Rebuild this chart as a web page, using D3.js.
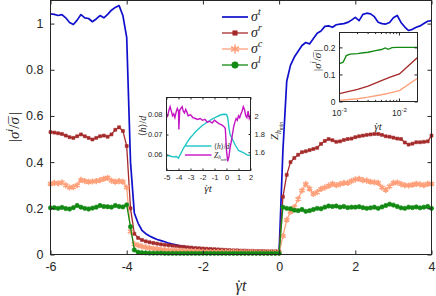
<!DOCTYPE html>
<html>
<head>
<meta charset="utf-8">
<script src="https://cdn.jsdelivr.net/npm/d3@7"></script>
<style>
    body { margin: 0; background: #fff; }
    svg text { fill: #262626; }
</style>
</head>
<body>
<svg id="chart" width="436" height="296"></svg>
<script>
// ─── DONNÉES : FIGURE PRINCIPALE ──────────────────────────────────────────────
const mainTicksX = [-6, -4, -2, 0, 2, 4];
const mainTicksY = [0, 0.2, 0.4, 0.6, 0.8, 1];
const shearTime = d3.range(-60, 41).map(i => i / 10);   // grille en γ̇t, pas de 0.1

const sigmaT = [
    1.042, 1.040, 1.035, 1.039, 1.025, 1.005, 0.996, 1.015, 1.039, 1.025,
    1.022, 1.008, 1.020, 1.035, 1.025, 1.040, 1.058, 1.070, 1.078, 1.035,
    0.940, 0.400, 0.180, 0.135, 0.105, 0.090, 0.080, 0.072, 0.065, 0.060,
    0.055, 0.049, 0.045, 0.042, 0.038, 0.035, 0.032, 0.030, 0.028, 0.026,
    0.024, 0.023, 0.022, 0.021, 0.020, 0.018, 0.017, 0.016, 0.015, 0.015,
    0.014, 0.013, 0.013, 0.012, 0.012, 0.011, 0.011, 0.010, 0.010, 0.010,
    0.010, 0.450, 0.750, 0.820, 0.855, 0.880, 0.905, 0.918, 0.912, 0.935,
    0.958, 0.968, 0.988, 0.990, 0.984, 0.995, 0.998, 1.000, 1.005, 1.015,
    1.027, 1.013, 1.040, 1.045, 1.042, 1.030, 1.006, 1.000, 0.998, 1.005,
    1.025, 1.035, 1.005, 0.985, 0.970, 0.975, 0.984, 0.990, 1.000, 1.010,
    1.013
];
const sigmaR = [
    0.530, 0.528, 0.525, 0.522, 0.515, 0.508, 0.505, 0.512, 0.520, 0.512,
    0.505, 0.498, 0.505, 0.512, 0.515, 0.510, 0.520, 0.540, 0.551, 0.535,
    0.470, 0.200, 0.090, 0.072, 0.063, 0.057, 0.053, 0.050, 0.047, 0.044,
    0.042, 0.040, 0.038, 0.036, 0.034, 0.033, 0.031, 0.030, 0.028, 0.027,
    0.026, 0.025, 0.024, 0.023, 0.022, 0.021, 0.020, 0.019, 0.018, 0.018,
    0.017, 0.017, 0.016, 0.016, 0.015, 0.015, 0.015, 0.014, 0.014, 0.014,
    0.014, 0.250, 0.345, 0.400, 0.418, 0.432, 0.443, 0.447, 0.452, 0.457,
    0.462, 0.479, 0.492, 0.500, 0.495, 0.488, 0.490, 0.496, 0.500, 0.502,
    0.508, 0.512, 0.515, 0.518, 0.520, 0.522, 0.522, 0.518, 0.512, 0.510,
    0.506, 0.502, 0.500, 0.485, 0.476, 0.480, 0.486, 0.486, 0.488, 0.490,
    0.515
];
const sigmaC = [
    0.306, 0.310, 0.308, 0.312, 0.300, 0.290, 0.292, 0.300, 0.323, 0.318,
    0.315, 0.316, 0.318, 0.322, 0.328, 0.332, 0.320, 0.315, 0.318, 0.315,
    0.290, 0.100, 0.045, 0.040, 0.035, 0.031, 0.028, 0.026, 0.024, 0.022,
    0.020, 0.019, 0.018, 0.017, 0.016, 0.015, 0.015, 0.014, 0.014, 0.013,
    0.012, 0.012, 0.011, 0.011, 0.011, 0.010, 0.010, 0.010, 0.010, 0.009,
    0.009, 0.009, 0.009, 0.009, 0.008, 0.008, 0.008, 0.008, 0.008, 0.008,
    0.008, 0.080, 0.150, 0.185, 0.205, 0.240, 0.277, 0.305, 0.285, 0.262,
    0.270, 0.284, 0.290, 0.298, 0.306, 0.300, 0.305, 0.310, 0.310, 0.318,
    0.325, 0.328, 0.322, 0.320, 0.315, 0.313, 0.310, 0.290, 0.280, 0.295,
    0.310, 0.312, 0.305, 0.300, 0.299, 0.302, 0.306, 0.304, 0.300, 0.306,
    0.306
];
const sigmaL = [
    0.202, 0.203, 0.200, 0.204, 0.199, 0.197, 0.203, 0.212, 0.205, 0.200,
    0.197, 0.201, 0.205, 0.212, 0.208, 0.207, 0.205, 0.212, 0.208, 0.206,
    0.215, 0.120, 0.020, 0.010, 0.008, 0.007, 0.006, 0.006, 0.006, 0.006,
    0.005, 0.005, 0.005, 0.005, 0.005, 0.005, 0.005, 0.005, 0.005, 0.005,
    0.005, 0.005, 0.005, 0.005, 0.005, 0.005, 0.005, 0.005, 0.005, 0.005,
    0.005, 0.005, 0.005, 0.005, 0.005, 0.005, 0.005, 0.005, 0.005, 0.005,
    0.005, 0.205, 0.200, 0.198, 0.192, 0.190, 0.195, 0.187, 0.190, 0.195,
    0.200, 0.198, 0.205, 0.210, 0.208, 0.210, 0.205, 0.208, 0.203, 0.205,
    0.205, 0.207, 0.203, 0.200, 0.202, 0.205, 0.200, 0.206, 0.212, 0.218,
    0.214, 0.208, 0.202, 0.200, 0.205, 0.203, 0.206, 0.202, 0.205, 0.208,
    0.200
];

// ─── DONNÉES : ENCART CENTRAL (⟨h⟩/d et Z) ────────────────────────────────────
const gapTime = [-5.0, -4.8, -4.6, -4.4, -4.2, -4.0, -3.9, -3.8, -3.6, -3.4, -3.2, -3.0,
                 -2.8, -2.6, -2.4, -2.2, -2.0, -1.8, -1.6, -1.4, -1.2, -1.0, -0.8, -0.6,
                 -0.4, -0.2, 0.0, 0.1, 0.2, 0.3, 0.5, 0.75, 1.0, 1.4, 1.7, 2.0];
const gapMean = [0.0592, 0.0595, 0.0590, 0.0588, 0.0590, 0.0582, 0.0595, 0.0605, 0.0630, 0.0650, 0.0668, 0.0685,
                 0.0698, 0.0712, 0.0724, 0.0735, 0.0745, 0.0754, 0.0762, 0.0770, 0.0777, 0.0783, 0.0789, 0.0795,
                 0.0800, 0.0801, 0.0800, 0.0785, 0.0735, 0.0700, 0.0675, 0.0645, 0.0620, 0.0610, 0.0598, 0.0595];

const coordTime = [-5.0, -4.9, -4.8, -4.7, -4.6, -4.5, -4.4, -4.3, -4.2, -4.1, -4.0, -3.97, -3.9,
                   -3.8, -3.7, -3.6, -3.5, -3.4, -3.3, -3.2, -3.0, -2.8, -2.6, -2.4, -2.2, -2.0,
                   -1.8, -1.6, -1.4, -1.2, -1.0, -0.8, -0.6, -0.4, -0.2, -0.1, 0.0, 0.1, 0.2,
                   0.3, 0.4, 0.5, 0.6, 0.7, 0.8, 0.9, 1.0, 1.1, 1.2, 1.3, 1.4, 1.5, 1.6, 1.7,
                   1.8, 1.9, 2.0];
const coordMin = [1.98, 2.00, 2.06, 2.10, 2.05, 2.00, 2.02, 1.98, 2.04, 2.08, 2.05, 1.85, 2.06,
                  2.08, 2.10, 2.05, 2.03, 2.07, 2.04, 2.00, 2.01, 1.98, 1.97, 1.96, 1.97, 1.95,
                  1.96, 1.93, 1.94, 1.92, 1.95, 1.93, 1.91, 1.90, 1.88, 1.86, 1.62, 1.50, 1.55,
                  1.65, 1.72, 1.80, 1.88, 1.93, 1.97, 1.95, 2.00, 1.98, 2.02, 2.05, 2.10, 2.07,
                  2.00, 1.98, 2.05, 1.97, 2.00];

// ─── DONNÉES : ENCART HAUT-DROIT (échelle log) ────────────────────────────────
const rateTimeL = [0.001, 0.00115, 0.0013, 0.0015, 0.002, 0.0025, 0.003, 0.004, 0.005,
                   0.0058, 0.0065, 0.0075, 0.009, 0.012, 0.02];
const rateSigmaL = [0.140, 0.145, 0.170, 0.175, 0.177, 0.180, 0.182, 0.188, 0.192,
                    0.198, 0.193, 0.199, 0.200, 0.200, 0.200];
const rateTimeRC = [0.001, 0.002, 0.003, 0.005, 0.007, 0.01, 0.02];
const rateSigmaR = [0.029, 0.045, 0.057, 0.077, 0.090, 0.102, 0.163];
const rateSigmaC = [0.004, 0.010, 0.016, 0.025, 0.032, 0.040, 0.086];

// ─── STYLES ───────────────────────────────────────────────────────────────────
const SANS  = "'Liberation Sans', Arial, Helvetica, sans-serif";
const SERIF = "'Liberation Serif', 'DejaVu Serif', serif";
const INK   = "#262626";

const colors = {
    t: "#1010cc",
    r: "#a52a2a",
    c: "#ffa07a",
    l: "#138a13",
    gap: "#1fc4c4",
    coord: "#c414c4"
};

const svg = d3.select("#chart");
const plain = d => String(d);   // tirets simples comme dans l'original

// Texte « mathématique » : morceaux avec décalage vertical s (em), échelle k, décalage dx (em)
function addMath(parent, parts, size) {
    const text = parent.append("text").attr("font-size", size);
    let shift = 0;
    for (const p of parts) {
        const s = p.s || 0;
        const ts = text.append("tspan")
            .text(p.t)
            .attr("font-family", SERIF)
            .attr("font-style", p.up ? "normal" : "italic")
            .attr("font-size", size * (p.k || 1));
        if (s !== shift) ts.attr("dy", (s - shift) * size);
        if (p.dx) ts.attr("dx", p.dx * size);
        shift = s;
    }
    return text;
}

const sigmaRatio = [
    { t: "|", up: 1 }, { t: "σ" }, { t: "i", s: -0.42, k: 0.7 },
    { t: "/", up: 1 }, { t: "σ" }, { t: "\u00AF", up: 1, dx: -0.43 }, { t: "|", up: 1, dx: 0.08 }
];
const gammaT = [{ t: "γ" }, { t: "\u02D9", up: 1, dx: -0.34 }, { t: "t", dx: 0.03 }];
const zLabel = [{ t: "Z" }, { t: "h", s: 0.25, k: 0.7 }, { t: "min", s: 0.42, k: 0.5 }];
const hLabel = [{ t: "⟨", up: 1 }, { t: "h" }, { t: "⟩", up: 1 }, { t: "/", up: 1 }, { t: "d" }];

function styleAxis(g, size) {
    g.attr("font-family", SANS).attr("font-size", size).attr("color", INK);
    g.select(".domain").remove();
    g.selectAll(".tick line").attr("stroke", INK);
}

function boxFrame(g, x0, x1, y0, y1) {
    g.append("rect")
        .attr("x", x0).attr("y", y1)
        .attr("width", x1 - x0).attr("height", y0 - y1)
        .attr("fill", "none").attr("stroke", INK).attr("stroke-width", 1);
}

// ─── FIGURE PRINCIPALE ────────────────────────────────────────────────────────
const x = d3.scaleLinear().domain([-6, 4]).range([50.5, 431.5]);
const y = d3.scaleLinear().domain([0, 1.1]).range([254.5, 0.5]);

const main = svg.append("g");

const rows = shearTime.map((t, i) => ({ t, st: sigmaT[i], sr: sigmaR[i], sc: sigmaC[i], sl: sigmaL[i] }));

const symAst = d3.symbolAsterisk || d3.symbolStar;

const series = [
    { key: "st", name: "t", color: colors.t, width: 1.7, marker: null },
    { key: "sr", name: "r", color: colors.r, width: 1.3, marker: { type: d3.symbolSquare, size: 9, fill: true } },
    { key: "sc", name: "c", color: colors.c, width: 1.3, marker: { type: symAst, size: 26, fill: false } },
    { key: "sl", name: "l", color: colors.l, width: 1.3, marker: { type: d3.symbolCircle, size: 15, fill: true } }
];

series.forEach(s => {
    main.append("path")
        .datum(rows)
        .attr("fill", "none")
        .attr("stroke", s.color)
        .attr("stroke-width", s.width)
        .attr("stroke-linejoin", "round")
        .attr("d", d3.line().x(d => x(d.t)).y(d => y(d[s.key])));

    if (s.marker) {
        const sym = d3.symbol().type(s.marker.type).size(s.marker.size);
        main.append("g").selectAll("path")
            .data(rows)
            .join("path")
            .attr("transform", d => `translate(${x(d.t)},${y(d[s.key])})`)
            .attr("d", sym)
            .attr("fill", s.marker.fill ? s.color : "none")
            .attr("stroke", s.color)
            .attr("stroke-width", s.marker.fill ? 0.6 : 1.6);
    }
});

// Axes (ticks vers l'intérieur, style MATLAB)
main.append("g")
    .attr("transform", "translate(0,254.5)")
    .call(d3.axisBottom(x).tickValues(mainTicksX).tickSizeInner(-4).tickSizeOuter(0).tickPadding(8).tickFormat(plain))
    .call(g => styleAxis(g, 12.5));
main.append("g")
    .attr("transform", "translate(0,0.5)")
    .call(d3.axisTop(x).tickValues(mainTicksX).tickSizeInner(-4).tickSizeOuter(0).tickFormat(""))
    .call(g => styleAxis(g, 12.5));
main.append("g")
    .attr("transform", "translate(50.5,0)")
    .call(d3.axisLeft(y).tickValues(mainTicksY).tickSizeInner(-4).tickSizeOuter(0).tickPadding(7).tickFormat(plain))
    .call(g => styleAxis(g, 12.5));
main.append("g")
    .attr("transform", "translate(431.5,0)")
    .call(d3.axisRight(y).tickValues(mainTicksY).tickSizeInner(-4).tickSizeOuter(0).tickFormat(""))
    .call(g => styleAxis(g, 12.5));
boxFrame(main, 50.5, 431.5, 254.5, 0.5);

addMath(main, gammaT, 16).attr("x", 241).attr("y", 291).attr("text-anchor", "middle");
addMath(main, sigmaRatio, 15)
    .attr("text-anchor", "middle")
    .attr("transform", "translate(19,127) rotate(-90)");

// Légende
const legend = main.append("g");
series.forEach((s, i) => {
    const ly = 17 + i * 16;
    legend.append("line")
        .attr("x1", 222).attr("x2", 248).attr("y1", ly).attr("y2", ly)
        .attr("stroke", s.color).attr("stroke-width", s.width);
    if (s.marker) {
        legend.append("path")
            .attr("transform", `translate(235,${ly})`)
            .attr("d", d3.symbol().type(s.marker.type).size(s.marker.size * 2.2))
            .attr("fill", s.marker.fill ? s.color : "none")
            .attr("stroke", s.color)
            .attr("stroke-width", s.marker.fill ? 0.6 : 1.6);
    }
    addMath(legend, [{ t: "σ" }, { t: s.name, s: -0.42, k: 0.7 }], 14)
        .attr("x", 251).attr("y", ly + 4);
});

// ─── ENCART CENTRAL ───────────────────────────────────────────────────────────
const ix = d3.scaleLinear().domain([-5, 2]).range([166.5, 250.5]);
const iyL = d3.scaleLinear().domain([0.052, 0.0885]).range([170.5, 97.5]);
const iyR = d3.scaleLinear().domain([1.4, 2.2]).range([170.5, 97.5]);

const ins1 = svg.append("g");
ins1.append("rect").attr("x", 166.5).attr("y", 97.5).attr("width", 84).attr("height", 73).attr("fill", "#fff");

ins1.append("path")
    .datum(gapTime.map((t, i) => [t, gapMean[i]]))
    .attr("fill", "none").attr("stroke", colors.gap).attr("stroke-width", 1.4)
    .attr("d", d3.line().x(d => ix(d[0])).y(d => iyL(d[1])));
ins1.append("path")
    .datum(coordTime.map((t, i) => [t, coordMin[i]]))
    .attr("fill", "none").attr("stroke", colors.coord).attr("stroke-width", 1.4)
    .attr("d", d3.line().x(d => ix(d[0])).y(d => iyR(d[1])));

ins1.append("g").attr("transform", "translate(0,170.5)")
    .call(d3.axisBottom(ix).tickValues(d3.range(-5, 3)).tickSizeInner(-2).tickSizeOuter(0).tickPadding(4).tickFormat(plain))
    .call(g => styleAxis(g, 7.5));
ins1.append("g").attr("transform", "translate(0,97.5)")
    .call(d3.axisTop(ix).tickValues(d3.range(-5, 3)).tickSizeInner(-2).tickSizeOuter(0).tickFormat(""))
    .call(g => styleAxis(g, 7.5));
ins1.append("g").attr("transform", "translate(166.5,0)")
    .call(d3.axisLeft(iyL).tickValues([0.06, 0.07, 0.08]).tickSizeInner(-2).tickSizeOuter(0).tickPadding(4).tickFormat(plain))
    .call(g => styleAxis(g, 7.5));
ins1.append("g").attr("transform", "translate(250.5,0)")
    .call(d3.axisRight(iyR).tickValues([1.6, 1.8, 2]).tickSizeInner(-2).tickSizeOuter(0).tickPadding(4).tickFormat(plain))
    .call(g => styleAxis(g, 7.5));
boxFrame(ins1, 166.5, 250.5, 170.5, 97.5);

addMath(ins1, gammaT, 11).attr("x", 208).attr("y", 192).attr("text-anchor", "middle");
addMath(ins1, hLabel, 10).attr("text-anchor", "middle").attr("transform", "translate(146,126) rotate(-90)");
addMath(ins1, zLabel, 11).attr("text-anchor", "middle").attr("transform", "translate(278,131) rotate(-90)");

[[colors.gap, hLabel, 146], [colors.coord, zLabel, 155]].forEach(([c, lab, ly]) => {
    ins1.append("line").attr("x1", 185).attr("x2", 211.5).attr("y1", ly).attr("y2", ly)
        .attr("stroke", c).attr("stroke-width", 1.4);
    addMath(ins1, lab, 7.5).attr("x", 214).attr("y", ly + 2.5);
});

// ─── ENCART HAUT-DROIT ────────────────────────────────────────────────────────
const rx = d3.scaleLog().domain([0.001, 0.02]).range([339.5, 417.5]);
const ry = d3.scaleLinear().domain([0, 0.255]).range([101.5, 32.5]);

const ins2 = svg.append("g");
ins2.append("rect").attr("x", 339.5).attr("y", 32.5).attr("width", 78).attr("height", 69).attr("fill", "#fff");

const rateLine = d3.line().x(d => rx(d[0])).y(d => ry(d[1]));
[[rateTimeRC, rateSigmaC, colors.c], [rateTimeRC, rateSigmaR, colors.r], [rateTimeL, rateSigmaL, colors.l]]
    .forEach(([ts, vs, c]) => {
        ins2.append("path")
            .datum(ts.map((t, i) => [t, vs[i]]))
            .attr("fill", "none").attr("stroke", c).attr("stroke-width", 1.4)
            .attr("d", rateLine);
    });

const majorRate = [0.001, 0.01];
const minorRate = [0.002, 0.003, 0.004, 0.005, 0.006, 0.007, 0.008, 0.009, 0.02];
[[101.5, -1], [32.5, 1]].forEach(([yy, dir]) => {
    majorRate.forEach(v => ins2.append("line").attr("x1", rx(v)).attr("x2", rx(v))
        .attr("y1", yy).attr("y2", yy + dir * 3).attr("stroke", INK));
    minorRate.forEach(v => ins2.append("line").attr("x1", rx(v)).attr("x2", rx(v))
        .attr("y1", yy).attr("y2", yy + dir * 1.6).attr("stroke", INK));
});
ins2.append("g").attr("transform", "translate(339.5,0)")
    .call(d3.axisLeft(ry).tickValues([0, 0.1, 0.2]).tickSizeInner(-3).tickSizeOuter(0).tickPadding(4).tickFormat(plain))
    .call(g => styleAxis(g, 8.5));
ins2.append("g").attr("transform", "translate(417.5,0)")
    .call(d3.axisRight(ry).tickValues([0, 0.1, 0.2]).tickSizeInner(-3).tickSizeOuter(0).tickFormat(""))
    .call(g => styleAxis(g, 8.5));
boxFrame(ins2, 339.5, 417.5, 101.5, 32.5);

majorRate.forEach(v => {
    const t = ins2.append("text")
        .attr("x", rx(v)).attr("y", 116)
        .attr("text-anchor", "middle")
        .attr("font-family", SANS).attr("font-size", 8.5);
    t.append("tspan").text("10");
    t.append("tspan").text("-" + Math.round(-Math.log10(v))).attr("font-size", 6).attr("dy", -4);
});

addMath(ins2, gammaT, 11).attr("x", 378).attr("y", 130).attr("text-anchor", "middle");
addMath(ins2, sigmaRatio, 11).attr("text-anchor", "middle").attr("transform", "translate(321,60) rotate(-90)");
</script>
</body>
</html>
